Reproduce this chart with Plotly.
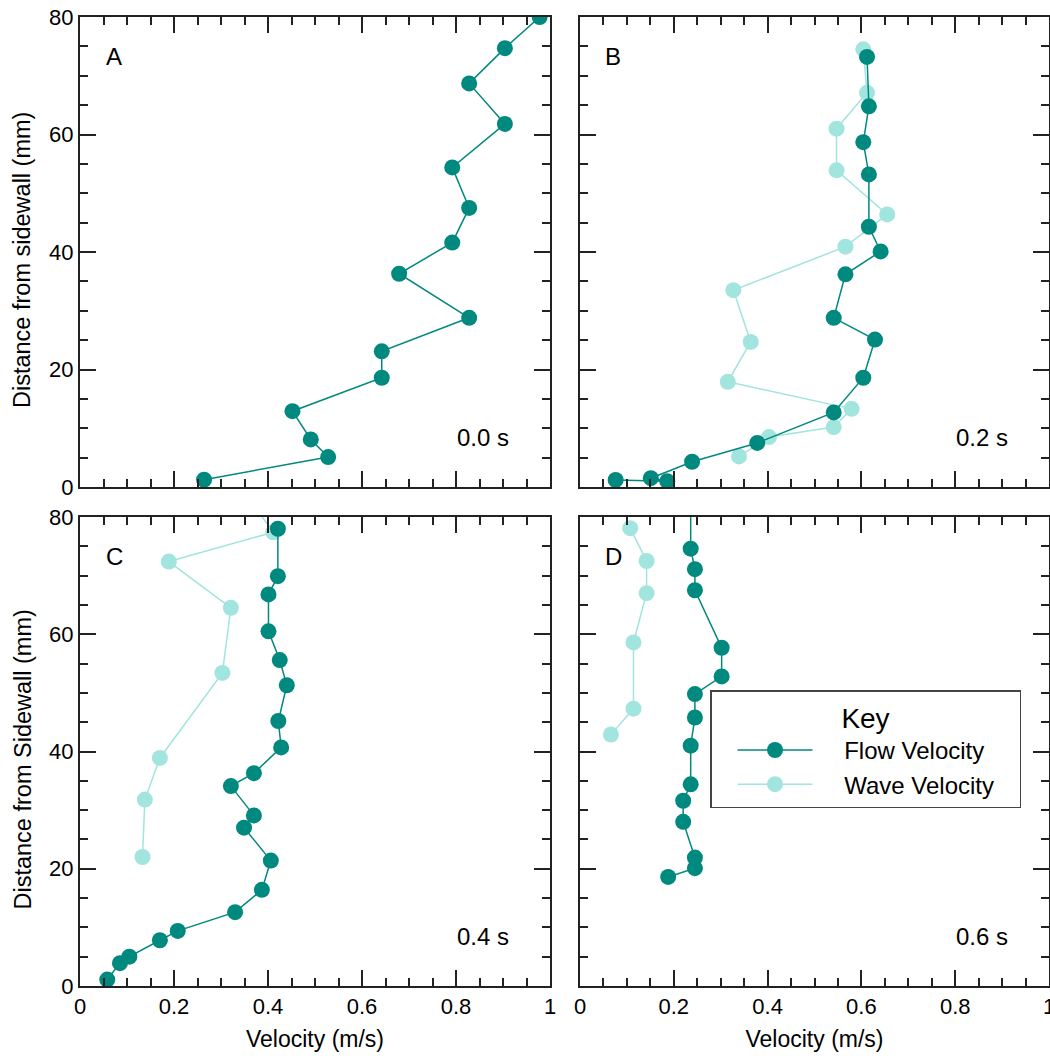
import plotly.graph_objects as go

# ---------------- data ----------------
a_flow_v = [0.978, 0.904, 0.828, 0.904, 0.792, 0.828, 0.792, 0.679, 0.828, 0.642, 0.642, 0.452, 0.491, 0.528, 0.264]
a_flow_d = [80.0, 74.7, 68.7, 61.8, 54.4, 47.5, 41.6, 36.3, 28.8, 23.1, 18.6, 12.9, 8.1, 5.1, 1.25]

b_flow_v = [0.612, 0.616, 0.604, 0.616, 0.616, 0.641, 0.566, 0.541, 0.629, 0.604, 0.541, 0.378, 0.239, 0.151, 0.186, 0.076]
b_flow_d = [73.2, 64.8, 58.7, 53.2, 44.3, 40.1, 36.2, 28.8, 25.1, 18.6, 12.7, 7.5, 4.3, 1.5, 1.0, 1.2]
b_wave_v = [0.604, 0.612, 0.547, 0.547, 0.655, 0.566, 0.327, 0.364, 0.315, 0.579, 0.541, 0.403, 0.339]
b_wave_d = [74.5, 67.1, 61.0, 53.9, 46.4, 40.9, 33.5, 24.7, 17.9, 13.3, 10.2, 8.5, 5.2]

c_flow_v = [0.421, 0.421, 0.401, 0.401, 0.425, 0.440, 0.422, 0.428, 0.370, 0.321, 0.370, 0.349, 0.406, 0.387, 0.330, 0.208, 0.170, 0.105, 0.085, 0.058]
c_flow_d = [78.0, 69.9, 66.8, 60.5, 55.6, 51.3, 45.2, 40.7, 36.3, 34.1, 29.1, 27.0, 21.4, 16.4, 12.6, 9.4, 7.8, 5.0, 3.9, 1.1]
c_wave_v = [0.37, 0.411, 0.189, 0.321, 0.303, 0.170, 0.138, 0.133]
c_wave_d = [82.0, 77.4, 72.4, 64.5, 53.4, 38.9, 31.8, 22.0]

d_flow_v = [0.236, 0.236, 0.245, 0.245, 0.302, 0.302, 0.245, 0.245, 0.236, 0.236, 0.220, 0.220, 0.245, 0.245, 0.188]
d_flow_d = [82.0, 74.6, 71.1, 67.5, 57.7, 52.8, 49.8, 45.8, 41.0, 34.4, 31.6, 28.0, 21.9, 20.1, 18.6]
d_wave_v = [0.107, 0.142, 0.142, 0.114, 0.114, 0.066]
d_wave_d = [78.1, 72.5, 67.0, 58.6, 47.3, 42.9]

panel_letters = ["A", "B", "C", "D"]
panel_times = ["0.0 s", "0.2 s", "0.4 s", "0.6 s"]
x_ticks = [0, 0.2, 0.4, 0.6, 0.8, 1]
x_ticktext = ["0", "0.2", "0.4", "0.6", "0.8", "1"]
y_ticks = [0, 20, 40, 60, 80]
series_names = ["Flow Velocity", "Wave Velocity"]
y_titles = ["Distance from sidewall (mm)", "Distance from Sidewall (mm)"]

FLOW = "#00897F"
WAVE = "#A2E4DE"
FONT = "Liberation Sans, Arial, sans-serif"
PAD = "\u00a0\u00a0\u00a0\u00a0"
TAIL = "\u00a0\u00a0\u00a0"

fig = go.Figure()

panels = [
    (a_flow_v, a_flow_d, None, None),
    (b_flow_v, b_flow_d, b_wave_v, b_wave_d),
    (c_flow_v, c_flow_d, c_wave_v, c_wave_d),
    (d_flow_v, d_flow_d, d_wave_v, d_wave_d),
]

W, H = 1050, 1056
xdoms = [[80 / W, 550 / W], [580 / W, 1049 / W]]
ydoms = [[1 - 487 / H, 1 - 17 / H], [1 - 986 / H, 1 - 517 / H]]

for i, (fv, fd, wv, wd) in enumerate(panels):
    xa = "x" if i == 0 else f"x{i+1}"
    ya = "y" if i == 0 else f"y{i+1}"
    if wv is not None:
        fig.add_trace(go.Scatter(
            x=wv, y=wd, xaxis=xa, yaxis=ya, mode="lines+markers",
            name=PAD + series_names[1] + TAIL, legendrank=2, showlegend=(i == 3),
            line=dict(color=WAVE, width=1.5),
            marker=dict(color=WAVE, size=16)))
    fig.add_trace(go.Scatter(
        x=fv, y=fd, xaxis=xa, yaxis=ya, mode="lines+markers",
        name=PAD + series_names[0] + TAIL, legendrank=1, showlegend=(i == 3),
        line=dict(color=FLOW, width=1.5),
        marker=dict(color=FLOW, size=16)))

layout = dict(
    width=W, height=H,
    margin=dict(l=0, r=0, t=0, b=0),
    paper_bgcolor="white", plot_bgcolor="white",
    font=dict(family=FONT, size=22, color="black"),
    showlegend=True,
    legend=dict(
        x=710 / W, y=1 - 690 / H, xanchor="left", yanchor="top",
        bgcolor="white", bordercolor="#444", borderwidth=1.5,
        font=dict(size=24, family=FONT),
        title=dict(text="Key", side="top center", font=dict(size=28, family=FONT)),
        itemwidth=75, tracegroupgap=0, indentation=21,
    ),
)

annotations = []
for i in range(4):
    r, c = divmod(i, 2)
    sx = "" if i == 0 else str(i + 1)
    common = dict(
        showline=True, linecolor="#222", linewidth=2, mirror="ticks",
        ticks="inside", ticklen=16, tickwidth=2, tickcolor="#222",
        showgrid=False, zeroline=False, automargin=False,
        ticklabeloverflow="allow",
        tickfont=dict(size=22, family=FONT),
    )
    xax = dict(common)
    xax.update(domain=xdoms[c], range=[0, 1], anchor="y" + sx,
               tickvals=x_ticks, ticktext=x_ticktext,
               minor=dict(dtick=0.05, tick0=0, ticks="inside", ticklen=8, tickwidth=2, tickcolor="#222"),
               showticklabels=(r == 1))
    if r == 1:
        xax["title"] = dict(text="Velocity (m/s)", font=dict(size=23, family=FONT), standoff=12)
    yax = dict(common)
    yax.update(domain=ydoms[r], range=[0, 80], anchor="x" + sx,
               tickvals=y_ticks,
               minor=dict(dtick=5, tick0=0, ticks="inside", ticklen=8, tickwidth=2, tickcolor="#222"),
               showticklabels=(c == 0))
    if c == 0:
        annotations.append(dict(x=22 / W, y=sum(ydoms[r]) / 2 - 8 / H, xref="paper", yref="paper",
                                text=y_titles[r], textangle=-90, showarrow=False,
                                xanchor="center", yanchor="middle", font=dict(size=23.5, family=FONT)))
    layout["xaxis" + sx] = xax
    layout["yaxis" + sx] = yax
    annotations.append(dict(x=0.05, y=73.3, xref="x" + sx, yref="y" + sx, text=panel_letters[i],
                            showarrow=False, xanchor="left", yanchor="middle", font=dict(size=24, family=FONT)))
    annotations.append(dict(x=0.797, y=8.5, xref="x" + sx, yref="y" + sx, text=panel_times[i],
                            showarrow=False, xanchor="left", yanchor="middle", font=dict(size=24, family=FONT)))

layout["annotations"] = annotations
fig.update_layout(**layout)
fig.write_html("out.html", config={"displayModeBar": False},
               post_script="document.body.style.margin='0';document.body.style.overflow='hidden';")
